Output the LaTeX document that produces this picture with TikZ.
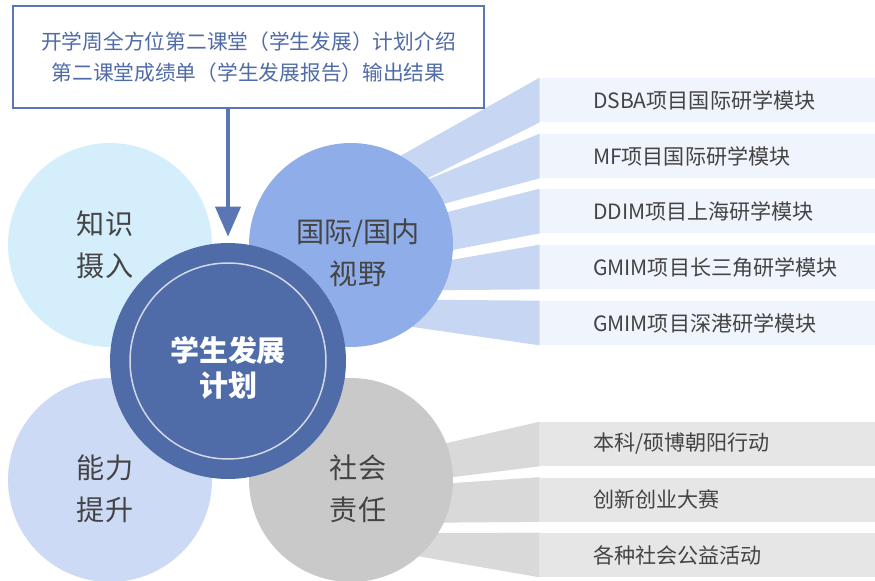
\documentclass[tikz,border=0pt]{standalone}
\usepackage{fontspec}
\setmainfont{Noto Sans CJK SC}
\usetikzlibrary{arrows.meta,positioning}

\definecolor{textgrey}{HTML}{444444}
\definecolor{knowfill}{HTML}{D5EEFB}
\definecolor{viewfill}{HTML}{8FADE8}
\definecolor{abilfill}{HTML}{CDDAF5}
\definecolor{socfill}{HTML}{C9C9C9}
\definecolor{planfill}{HTML}{4F6BA8}
\definecolor{ringline}{HTML}{D3D9E6}
\definecolor{boxline}{HTML}{5A76B3}
\definecolor{blueband}{HTML}{C6D6F3}
\definecolor{bluebar}{HTML}{F0F4FC}
\definecolor{greyband}{HTML}{D9D9D9}
\definecolor{greybar}{HTML}{E6E6E6}

\begin{document}
\begin{tikzpicture}[x=0.02cm,y=-0.02cm,
	bubble/.style={circle,minimum size=4.08cm,inner sep=0pt},
	bubbletext/.style={text=textgrey,align=center,inner sep=0pt,font=\fontsize{16}{24}\selectfont},
	bar/.style={rectangle,minimum width=6.7cm,minimum height=0.88cm,inner sep=0pt},
	bartext/.style={text=textgrey,inner sep=0pt,font=\fontsize{12}{14}\selectfont},
	arrowline/.style={draw=boxline,line width=0.08cm,-{Triangle[length=0.6cm,width=0.5cm]}}]

\useasboundingbox (0,0) rectangle (875,581);

\foreach \yc/\ya/\yb/\txt [count=\i] in {100/158.9/194.5/DSBA项目国际研学模块,156/193/216.7/MF项目国际研学模块,211/225.3/261/DDIM项目上海研学模块,267/269.7/290.5/GMIM项目长三角研学模块,323/299.5/324.4/GMIM项目深港研学模块}{
	\node[bar,fill=bluebar] (m\i) at (707.5,\yc) {};
	\fill[blueband] (395,\ya) -- (m\i.north west) -- (m\i.south west) -- (395,\yb) -- cycle;
	\node[bartext,right=1.06cm of m\i.west] (m\i t) {\txt};
}

\foreach \yc/\ya/\yb/\txt [count=\i] in {444/455/484.3/{本科/硕博朝阳行动},499.5/487/523/创新创业大赛,555/533/552.2/各种社会公益活动}{
	\node[bar,fill=greybar] (s\i) at (707.5,\yc) {};
	\fill[greyband] (395,\ya) -- (s\i.north west) -- (s\i.south west) -- (395,\yb) -- cycle;
	\node[bartext,right=1.06cm of s\i.west] (s\i t) {\txt};
}

\node[bubble,fill=knowfill] (know) at (110,245) {};
\node[bubble,fill=viewfill] (view) at (351,245) {};
\node[bubble,fill=abilfill] (abil) at (110,480) {};
\node[bubble,fill=socfill] (soc) at (351,480) {};
\node[bubbletext] (know t) at ([shift={(-5,0)}]know.center) {知识\\摄入};
\node[bubbletext] (view t) at ([shift={(7,8)}]view.center) {国际/国内\\视野};
\node[bubbletext] (abil t) at ([shift={(-5,9)}]abil.center) {能力\\提升};
\node[bubbletext] (soc t) at ([shift={(7,9)}]soc.center) {社会\\责任};

\node[circle,fill=planfill,minimum size=4.72cm,inner sep=0pt] (ctr) at (228,361) {};
\node[circle,draw=ringline,line width=0.03cm,minimum size=3.92cm,inner sep=0pt] (ring) at (ctr) {};
\node[text=white,align=center,inner sep=0pt,font=\bfseries\fontsize{16.5}{20}\selectfont] (ctr t) at ([shift={(0,7)}]ctr.center) {学生发展\\计划};

\node[draw=boxline,line width=0.04cm,fill=white,minimum width=9.42cm,minimum height=2.04cm,text=planfill,align=center,font=\fontsize{11.8}{18}\selectfont] (plan) at (248.5,57) {开学周全方位第二课堂（学生发展）计划介绍\\第二课堂成绩单（学生发展报告）输出结果};

\draw[arrowline,shorten >=0.12cm] (plan.south -| ctr) -- (ctr.north);

\end{tikzpicture}
\end{document}
